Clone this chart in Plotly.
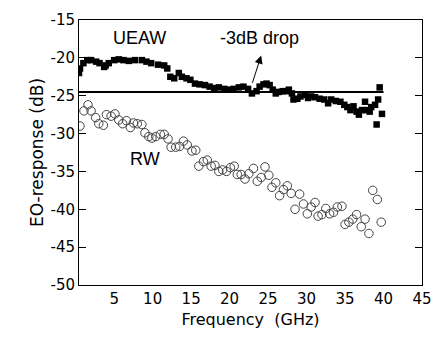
import plotly.graph_objects as go

# UEAW (filled squares)
ueaw_f = [0.43, 0.56, 1.0, 1.5, 2.0, 2.66, 3.1, 3.7, 3.9, 4.3, 5.0, 5.6, 6.2, 6.9, 7.7, 8.6, 9.2, 9.8,
          10.7, 11.5, 11.9, 12.3, 12.8, 13.4, 13.8, 14.4, 14.9, 15.5, 16.1, 16.8, 17.4, 18.0, 18.6,
          19.3, 19.9, 20.5, 21.2, 21.8, 22.4, 22.9, 23.5, 23.9, 24.4, 24.8, 25.2, 25.6, 26.0, 26.4,
          26.9, 27.3, 27.7, 28.1, 28.3, 28.8, 29.2, 29.8, 30.2, 30.6, 31.1, 31.7, 32.3, 32.8, 33.2,
          33.8, 34.4, 34.9, 35.3, 35.7, 36.1, 36.5, 36.8, 37.2, 37.6, 37.8, 38.2, 38.4, 38.9, 39.1,
          39.3, 39.5, 39.8]
ueaw_db = [-22.0, -21.4, -20.7, -20.3, -20.3, -20.5, -20.7, -21.2, -21.0, -20.7, -20.3, -20.2, -20.3,
           -20.4, -20.3, -20.3, -20.5, -20.7, -20.9, -21.0, -21.4, -22.5, -22.7, -22.0, -22.5, -22.7,
           -22.9, -23.4, -23.5, -23.6, -23.8, -24.0, -23.9, -24.1, -24.2, -24.1, -23.9, -23.8, -24.1,
           -24.7, -24.4, -23.8, -23.5, -23.4, -23.6, -24.2, -24.7, -24.5, -24.4, -24.4, -24.2, -24.7,
           -25.5, -25.4, -25.1, -24.9, -25.3, -25.1, -25.2, -25.4, -25.5, -26.0, -25.5, -25.7, -25.8,
           -26.2, -26.5, -26.9, -26.4, -27.1, -27.5, -26.9, -25.8, -26.9, -27.1, -26.5, -26.2, -28.8,
           -25.5, -23.9, -27.4]

# RW (open circles)
rw_f = [0.56, 1.07, 1.6, 2.0, 2.6, 3.0, 3.6, 4.0, 4.6, 5.1, 5.6, 6.1, 6.6, 7.1, 7.5, 8.0, 8.6, 9.0,
        9.5, 9.9, 10.4, 11.0, 11.5, 12.0, 12.4, 13.0, 13.5, 14.0, 14.5, 15.1, 15.6, 16.0, 16.6, 17.1,
        17.6, 18.1, 18.6, 19.1, 19.6, 20.1, 20.6, 21.0, 21.5, 22.0, 22.5, 23.1, 23.6, 24.1, 24.6,
        25.1, 25.5, 26.0, 26.5, 27.0, 27.5, 28.0, 28.5, 29.1, 29.6, 30.1, 30.6, 31.1, 31.5, 32.0,
        32.5, 33.0, 33.5, 34.0, 34.6, 35.0, 35.5, 36.0, 36.5, 37.1, 37.6, 38.1, 38.6, 39.2, 39.7]
rw_db = [-29.0, -27.0, -26.2, -27.0, -27.9, -28.7, -28.9, -27.5, -27.7, -27.4, -28.2, -28.7, -28.3,
         -29.2, -28.6, -28.7, -28.8, -29.9, -30.4, -30.6, -30.4, -30.1, -30.1, -30.7, -31.8, -31.8,
         -31.7, -31.0, -31.5, -32.3, -32.2, -34.3, -33.7, -33.5, -34.3, -34.2, -35.0, -34.8, -35.0,
         -34.5, -34.3, -35.4, -35.4, -36.0, -35.3, -34.6, -36.3, -35.8, -34.4, -35.5, -37.1, -36.5,
         -38.2, -37.4, -36.9, -37.9, -40.0, -38.0, -39.3, -40.6, -39.7, -39.1, -40.9, -40.7, -39.9,
         -40.6, -40.4, -39.7, -39.6, -42.0, -41.7, -41.3, -40.7, -42.3, -41.3, -43.2, -37.5, -38.7,
         -41.7]

# -3 dB reference line
ref_f = [0.43, 40.0]
ref_db = [-24.5, -24.5]

x_tickvals = [5, 10, 15, 20, 25, 30, 35, 40, 45]
x_ticktext = ["5", "10", "15", "20", "25", "30", "35", "40", "45"]
y_tickvals = [-15, -20, -25, -30, -35, -40, -45, -50]
y_ticktext = ["-15", "-20", "-25", "-30", "-35", "-40", "-45", "-50"]

font = "Liberation Sans, Arial, sans-serif"
wide = "DejaVu Sans, Verdana, sans-serif"

fig = go.Figure()
fig.add_trace(go.Scatter(x=ref_f, y=ref_db, mode="lines",
                         line=dict(color="black", width=2), showlegend=False))
fig.add_trace(go.Scatter(x=ueaw_f, y=ueaw_db, mode="markers",
                         marker=dict(symbol="square", size=6.5, color="black", line=dict(width=0)),
                         showlegend=False))
fig.add_trace(go.Scatter(x=rw_f, y=rw_db, mode="markers",
                         marker=dict(symbol="circle-open", size=8.5, color="#444444",
                                     line=dict(width=1, color="#444444")),
                         showlegend=False))

fig.add_annotation(x=8.35, y=-17.4, text="UEAW", showarrow=False,
                   font=dict(family=font, size=18, color="black"))
fig.add_annotation(x=23.9, y=-17.4, text="-3dB drop", showarrow=False,
                   font=dict(family=font, size=18, color="black"))
fig.add_annotation(x=9.0, y=-33.4, text="RW", showarrow=False,
                   font=dict(family=font, size=18, color="black"))
fig.add_annotation(x=24.1, y=-19.7, ax=22.9, ay=-23.5, xref="x", yref="y", axref="x", ayref="y",
                   text="", showarrow=True, arrowhead=2, arrowsize=1.6, arrowwidth=1,
                   arrowcolor="black")

fig.update_layout(
    width=443, height=337,
    margin=dict(l=79, r=11, t=18, b=52),
    paper_bgcolor="white", plot_bgcolor="white",
    font=dict(family=wide, size=15, color="black"),
    xaxis=dict(range=[0.43, 45], tickvals=x_tickvals, ticktext=x_ticktext,
               showgrid=False, zeroline=False, showline=True, linecolor="black", linewidth=1,
               mirror=True, ticks="", tickfont=dict(family=wide, size=15),
               title=dict(text="Frequency  (GHz)", font=dict(family=wide, size=16), standoff=6)),
    yaxis=dict(range=[-50, -15], tickvals=y_tickvals, ticktext=y_ticktext,
               showgrid=False, zeroline=False, showline=True, linecolor="black", linewidth=1,
               mirror="ticks", ticks="inside", ticklen=7, tickcolor="black",
               tickfont=dict(family=wide, size=15),
               title=dict(text="EO-response (dB)", font=dict(family=wide, size=17), standoff=2)),
)

fig.write_html("out.html")
